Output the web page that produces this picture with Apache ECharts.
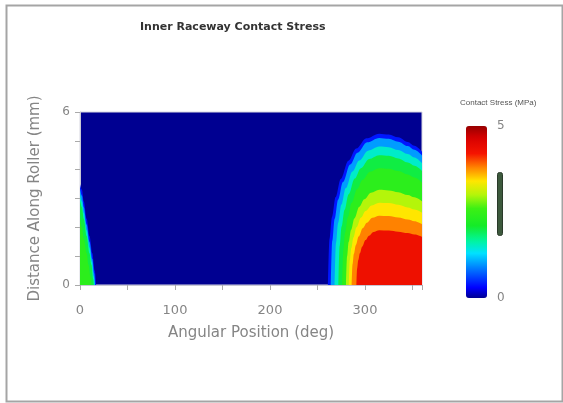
<!DOCTYPE html>
<html><head><meta charset="utf-8">
<script src="https://cdn.jsdelivr.net/npm/echarts/dist/echarts.min.js"></script>
<style>html,body{margin:0;padding:0;background:#fff}#c{width:563px;height:403px}</style>
</head><body><div id="c"></div>
<script>
// ---- texts ----
const titleText = 'Inner Raceway Contact Stress';
const xAxisName = 'Angular Position (deg)';
const yAxisName = 'Distance Along Roller (mm)';
const colorbarName = 'Contact Stress (MPa)';

// ---- axes ----
const xMin = 0, xMax = 360, xTickStep = 50;
const xLabelValues = [0, 100, 200, 300];
const yMin = 0, yMax = 6, yTickStep = 1;
const yLabelValues = [0, 6];
const stressMin = 0, stressMax = 5;
const colorbarLabelValues = [0, 5];

// ---- contour bands (stress value of each band, MPa) : dome near 315 deg ----
const domeLevels = [0.4, 1.0, 1.5, 2.0, 2.4, 3.0, 3.4, 3.8, 4.3];
// upper boundary of each band: [angle deg, distance mm]
const dome_04 = [[261,0],[262.6,1.58],[265.3,2.36],[269.1,3.05],[274.5,3.68],[282.6,4.31],[290.7,4.73],[301.5,5.09],[315,5.25],[325,5.22],[335,5.12],[345,4.96],[352,4.83],[360,4.62]];
const dome_10 = [[264,0],[265.5,1.53],[268.1,2.30],[271.7,2.96],[276.8,3.57],[284.4,4.18],[292.1,4.59],[302.3,4.95],[315,5.1],[325,5.07],[335,4.97],[345,4.82],[352,4.69],[360,4.49]];
const dome_15 = [[268,0],[269.4,1.44],[271.8,2.16],[275.1,2.78],[279.8,3.36],[286.8,3.94],[293.9,4.32],[303.3,4.66],[315,4.8],[325,4.78],[335,4.68],[345,4.54],[352,4.42],[360,4.22]];
const dome_20 = [[272,0],[273.3,1.35],[275.4,2.03],[278.5,2.61],[282.8,3.15],[289.2,3.69],[295.7,4.05],[304.3,4.37],[315,4.5],[325,4.48],[335,4.39],[345,4.25],[352,4.14],[360,3.96]];
const dome_24 = [[276,0],[277.2,1.22],[279.1,1.82],[281.9,2.35],[285.8,2.84],[291.6,3.32],[297.5,3.65],[305.3,3.93],[315,4.05],[325,4.03],[335,3.95],[345,3.83],[352,3.73],[360,3.56]];
const dome_30 = [[280,0],[281.1,0.99],[282.8,1.49],[285.3,1.91],[288.8,2.31],[294,2.71],[299.3,2.97],[306.3,3.2],[315,3.3],[325,3.28],[335,3.22],[345,3.12],[352,3.04],[360,2.90]];
const dome_34 = [[283,0],[284,0.86],[285.6,1.28],[287.8,1.65],[291,2.0],[295.8,2.34],[300.6,2.57],[307,2.76],[315,2.85],[325,2.84],[335,2.78],[345,2.69],[352,2.62],[360,2.51]];
const dome_38 = [[286,0],[286.9,0.72],[288.3,1.08],[290.4,1.39],[293.3,1.68],[297.6,1.97],[302,2.16],[307.8,2.33],[315,2.4],[325,2.39],[335,2.34],[345,2.27],[352,2.21],[360,2.11]];
const dome_43 = [[291,0],[291.7,0.57],[292.9,0.86],[294.6,1.10],[297,1.33],[300.6,1.56],[304.2,1.71],[309,1.84],[315,1.9],[325,1.89],[335,1.85],[345,1.80],[352,1.75],[360,1.67]];
const domeBounds = [dome_04, dome_10, dome_15, dome_20, dome_24, dome_30, dome_34, dome_38, dome_43];

// ---- contour bands : wedge at 0 deg ----
const wedgeLevels = [0.4, 1.0, 1.5, 2.0, 2.4];
const wedge_04 = [[0,3.5],[2,3.3],[4,2.9],[7,2.3],[10,1.7],[13,1.1],[15.5,0.5],[17,0]];
const wedge_10 = [[0,3.35],[2,3.1],[4,2.7],[7,2.1],[10,1.5],[13,0.9],[15,0.4],[16,0]];
const wedge_15 = [[0,3.15],[2,2.9],[4,2.5],[7,1.9],[10,1.3],[12.5,0.8],[14.5,0.3],[15.5,0]];
const wedge_20 = [[0,2.95],[2,2.7],[4,2.3],[7,1.7],[10,1.1],[12,0.7],[14,0.2],[14.5,0]];
const wedge_24 = [[0,2.3],[2,2.0],[4,1.6],[7,1.1],[9,0.7],[11,0.3],[12,0]];
const wedgeBounds = [wedge_04, wedge_10, wedge_15, wedge_20, wedge_24];

// ---- colour scale (style) ----
const colorStops = [[0,[0,0,145]],[0.06,[0,0,255]],[0.16,[0,110,255]],[0.26,[0,225,255]],[0.33,[0,245,160]],[0.42,[20,235,40]],[0.52,[60,240,20]],[0.60,[180,245,10]],[0.68,[255,230,0]],[0.76,[255,130,0]],[0.84,[245,20,0]],[0.93,[215,0,0]],[1,[150,0,0]]];
function colorAtT(t){
  t = Math.max(0, Math.min(1, t));
  for (let i = 1; i < colorStops.length; i++) {
    const [t1, c1] = colorStops[i];
    const [t0, c0] = colorStops[i-1];
    if (t <= t1) {
      const f = (t - t0) / (t1 - t0);
      const c = c0.map((v, k) => Math.round(v + (c1[k] - v) * f));
      return 'rgb(' + c.join(',') + ')';
    }
  }
  return 'rgb(' + colorStops[colorStops.length-1][1].join(',') + ')';
}
function colorAt(v){ return colorAtT((v - stressMin) / (stressMax - stressMin)); }
const barColors = [];
for (let i = 0; i <= 50; i++) barColors.push(colorAtT(i / 50));

const series = [];
function addBands(levels, bounds){
  levels.forEach((lv, i) => {
    series.push({
      type: 'line', xAxisIndex: 0, yAxisIndex: 0,
      data: bounds[i], symbol: 'none', smooth: 0.35, smoothMonotone: 'x',
      lineStyle: { width: 0 }, areaStyle: { color: colorAt(lv), opacity: 1 },
      silent: true, z: 2
    });
  });
}
addBands(domeLevels, domeBounds);
addBands(wedgeLevels, wedgeBounds);

const axisGray = '#858585';
const chart = echarts.init(document.getElementById('c'), null, { renderer: 'canvas' });
chart.setOption({
  animation: false,
  backgroundColor: '#ffffff',
  title: {
    text: titleText, left: 135, top: 17,
    textStyle: { fontSize: 11, fontWeight: 'bold', color: '#333', fontFamily: 'DejaVu Sans' }
  },
  grid: [
    { left: 80, top: 112, width: 342, height: 173, show: true, backgroundColor: colorAt(0), borderColor: '#d6d6e0', borderWidth: 1 },
    { left: 466, top: 126, width: 21, height: 172, show: false }
  ],
  xAxis: [
    {
      type: 'value', gridIndex: 0, min: xMin, max: xMax, interval: xTickStep,
      name: xAxisName, nameLocation: 'middle', nameGap: 41,
      nameTextStyle: { fontSize: 15, color: axisGray, fontFamily: 'DejaVu Sans' },
      axisLine: { show: true, lineStyle: { color: '#c8c8d4' } },
      axisTick: { show: true, length: 5, lineStyle: { color: '#aaa' } },
      splitLine: { show: false },
      axisLabel: { margin: 19, fontSize: 13, color: axisGray, fontFamily: 'DejaVu Sans',
        formatter: v => xLabelValues.includes(v) ? String(v) : '' }
    },
    { type: 'value', gridIndex: 1, show: false, min: 0, max: 1 }
  ],
  yAxis: [
    {
      type: 'value', gridIndex: 0, min: yMin, max: yMax, interval: yTickStep,
      name: yAxisName, nameLocation: 'middle', nameGap: 37,
      nameTextStyle: { fontSize: 15, color: axisGray, fontFamily: 'DejaVu Sans' },
      axisLine: { show: true, lineStyle: { color: '#c8c8d4' } },
      axisTick: { show: true, length: 5, lineStyle: { color: '#aaa' } },
      splitLine: { show: false },
      axisLabel: { margin: 10, fontSize: 12, color: axisGray, fontFamily: 'DejaVu Sans', padding: [8, 0, 0, 0],
        formatter: v => yLabelValues.includes(v) ? String(v) : '' }
    },
    {
      type: 'value', gridIndex: 1, position: 'right', min: stressMin, max: stressMax, interval: stressMax - stressMin,
      axisLine: { show: false }, axisTick: { show: false }, splitLine: { show: false },
      axisLabel: { margin: 10, fontSize: 12, color: axisGray, fontFamily: 'DejaVu Sans', padding: [6, 0, 0, 0],
        formatter: v => colorbarLabelValues.includes(v) ? String(v) : '' }
    }
  ],
  visualMap: {
    type: 'continuous', min: stressMin, max: stressMax, seriesIndex: [],
    left: 466, top: 126, itemWidth: 21, itemHeight: 172, padding: 0,
    calculable: false, realtime: false, inRange: { color: barColors }
  },
  graphic: [
    { type: 'rect', left: 4, top: 3, shape: { width: 556, height: 396 }, style: { fill: null, stroke: '#a5a5a5', lineWidth: 2 }, silent: true },
    { type: 'text', left: 460, top: 99, style: { text: colorbarName, fontSize: 8, fill: '#555', fontFamily: 'Liberation Sans' } },
    { type: 'rect', left: 497, top: 172, shape: { width: 5, height: 63, r: 2 }, style: { fill: '#3d5a3d', stroke: '#2a3a2a', lineWidth: 1 } }
  ],
  series: series
});
</script>
</body></html>
